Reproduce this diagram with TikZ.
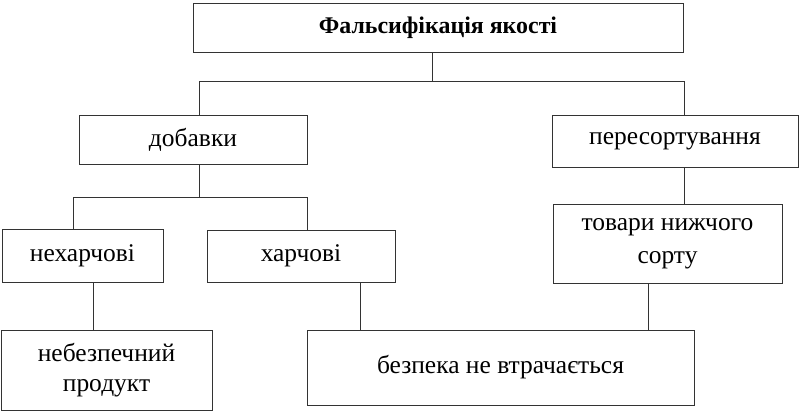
\documentclass[tikz,border=0pt]{standalone}
\usepackage{fontspec}
\setmainfont{Liberation Serif}
\usetikzlibrary{positioning}

\begin{document}
\begin{tikzpicture}[
        x=0.02cm, y=-0.02cm,
        block/.style={draw=black!80, line width=0.5pt, rectangle, align=center, inner sep=2pt, font=\fontsize{14.5}{17}\selectfont},
        link/.style={draw=black!80, line width=0.5pt}
    ]
        \useasboundingbox (0,0) rectangle (799,412);

        % Top
        \node[block, minimum width=9.8cm, minimum height=0.98cm, font=\fontsize{13.6}{17}\selectfont\bfseries] (falsif) at (438,27.5) {Фальсифікація якості};

        % Level 1
        \node[block, minimum width=4.56cm, minimum height=0.98cm] (dobavky) at (193,139.5) {добавки};
        \node[block, minimum width=4.92cm, minimum height=1.04cm] (peresort) at (675,141) {пересортування};

        % Level 2
        \node[block, minimum width=3.22cm, minimum height=1.06cm] (nekharch) at (82.5,255.5) {нехарчові};
        \node[block, minimum width=3.76cm, minimum height=1.04cm] (kharch) at (301,256) {харчові};
        \node[block, minimum width=4.58cm, minimum height=1.58cm, font=\fontsize{14.5}{19}\selectfont] (tovary) at (667.5,243.5) {товари нижчого\\сорту};

        % Level 3
        \node[block, minimum width=4.22cm, minimum height=1.6cm] (nebezp) at (106.5,370) {небезпечний\\продукт};
        \node[block, minimum width=7.74cm, minimum height=1.5cm] (bezpeka) at (500.5,367.5) {безпека не втрачається};

        % Connectors
        \draw[link] ([xshift=-0.12cm]falsif.south) -- ++(0,29) coordinate (j1);
        \draw[link] (j1) -| ([xshift=0.12cm]dobavky.north);
        \draw[link] (j1) -| ([xshift=0.18cm]peresort.north);

        \draw[link] ([xshift=0.12cm]dobavky.south) -- ++(0,33) coordinate (j2);
        \draw[link] (j2) -| ([xshift=-0.19cm]nekharch.north);
        \draw[link] (j2) -| ([xshift=0.12cm]kharch.north);

        \draw[link] ([xshift=0.21cm]nekharch.south) coordinate (c1) -- (c1 |- nebezp.north);
        \draw[link] ([xshift=1.18cm]kharch.south) coordinate (c2) -- (c2 |- bezpeka.north);
        \draw[link] ([xshift=0.18cm]peresort.south) coordinate (c3) -- (c3 |- tovary.north);
        \draw[link] ([xshift=-0.39cm]tovary.south) coordinate (c4) -- (c4 |- bezpeka.north);
    \end{tikzpicture}
\end{document}
